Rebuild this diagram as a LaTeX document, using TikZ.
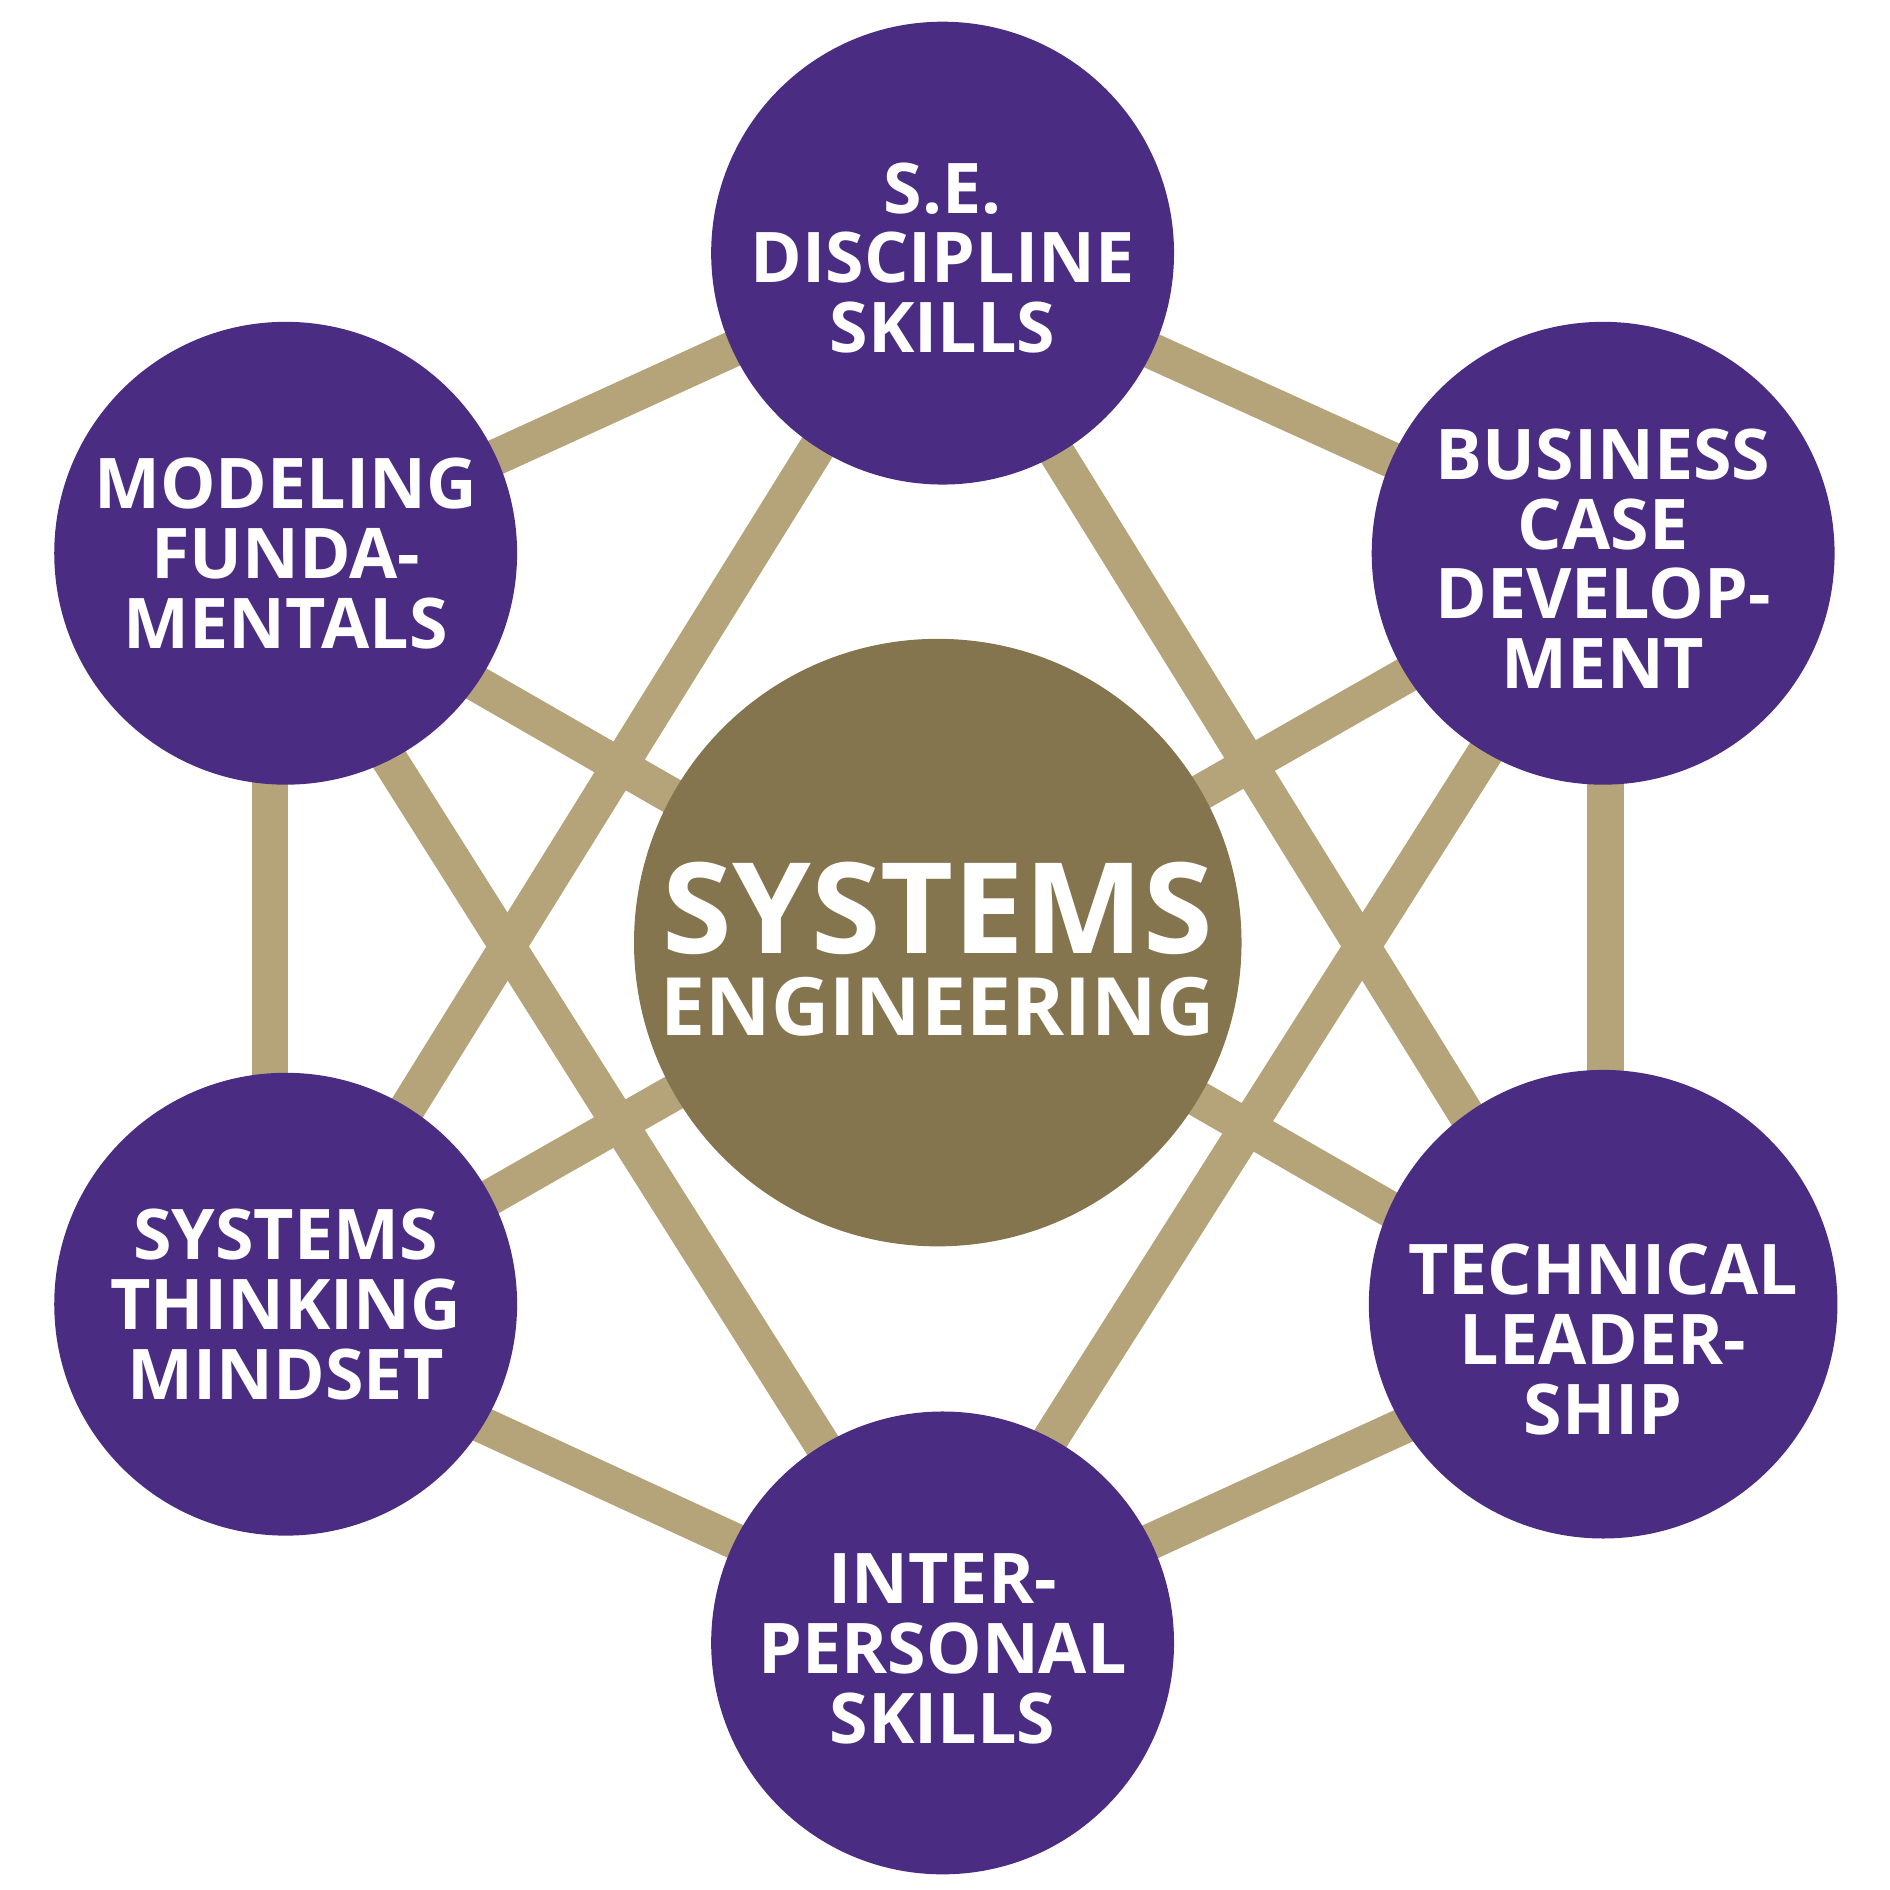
\documentclass[tikz,border=0pt]{standalone}
\usepackage{fontspec}
\setmainfont{Open Sans}[BoldFont={* Bold}]
\usetikzlibrary{backgrounds}
\definecolor{sepurple}{HTML}{4A2D82}
\definecolor{seolive}{HTML}{85754E}
\definecolor{setan}{HTML}{B5A47A}
% strut that pushes a label block down inside its circle
\newcommand{\dropby}[1]{\rule{0pt}{#1}}
\begin{document}
\begin{tikzpicture}[
  skill/.style={circle, fill=sepurple, minimum size=3.84cm, inner sep=0pt, outer sep=0pt,
    text=white, align=center, font=\bfseries\fontsize{16.5}{16.5}\selectfont},
  core/.style={circle, fill=seolive, minimum size=5.04cm, inner sep=0pt, outer sep=0pt,
    text=white, align=center, font=\bfseries\fontsize{19}{19.4}\selectfont},
  link/.style={line width=0.30cm, setan},
]
  \useasboundingbox (0,0) rectangle (15.68,-15.68);

  % Skill circles round the core
  \node[skill] (sed) at (7.82,-2.10) {\dropby{0.50cm}S.E.\\DISCIPLINE\\SKILLS};
  \node[skill] (mod) at (2.37,-4.59) {MODELING\\FUNDA-\\MENTALS};
  \node[skill] (bcd) at (13.30,-4.59) {\dropby{0.51cm}BUSINESS\\CASE\\DEVELOP-\\MENT};
  \node[skill] (stm) at (2.37,-10.82) {SYSTEMS\\THINKING\\MINDSET};
  \node[skill] (tld) at (13.30,-10.82) {\dropby{0.43cm}\\TECHNICAL\\LEADER-\\SHIP};
  \node[skill] (ips) at (7.82,-13.63) {\dropby{0.51cm}INTER-\\PERSONAL\\SKILLS};
  \node[core] (sys) at (7.78,-7.82)
    {{\fontsize{29.8}{29.8}\selectfont\dropby{0.87cm}SYSTEMS}\\ENGINEERING};

  \begin{scope}[on background layer]
    % Outer ring
    \draw[link] (sed.center) -- (mod.center);
    \draw[link] ([xshift=-0.05cm]sed.center) -- ([xshift=-0.05cm]bcd.center);
    \draw[link] ([xshift=0.02cm]bcd.center) -- ([xshift=0.02cm]tld.center);
    \draw[link] ([yshift=-0.25cm]tld.center) -- ([yshift=0.05cm]ips.center);
    \draw[link] ([yshift=0.05cm]ips.center) -- ([yshift=-0.25cm]stm.center);
    \draw[link] ([xshift=-0.13cm]stm.center) -- ([xshift=-0.13cm]mod.center);
    % Cross links
    \draw[link] ([xshift=-0.04cm]sed.center) -- (stm.center);
    \draw[link] ([xshift=-0.08cm]sed.center) -- ([xshift=-0.16cm]tld.center);
    \draw[link] ([xshift=0.04cm]ips.center) -- ([xshift=-0.22cm]mod.center);
    \draw[link] ([xshift=-0.18cm]ips.center) -- ([xshift=0.07cm]bcd.center);
    \draw[link] ([yshift=-0.17cm]mod.center) -- ([yshift=-0.23cm]tld.center);
    \draw[link] ([yshift=-0.08cm]bcd.center) -- ([yshift=-0.08cm]stm.center);
  \end{scope}
\end{tikzpicture}
\end{document}
